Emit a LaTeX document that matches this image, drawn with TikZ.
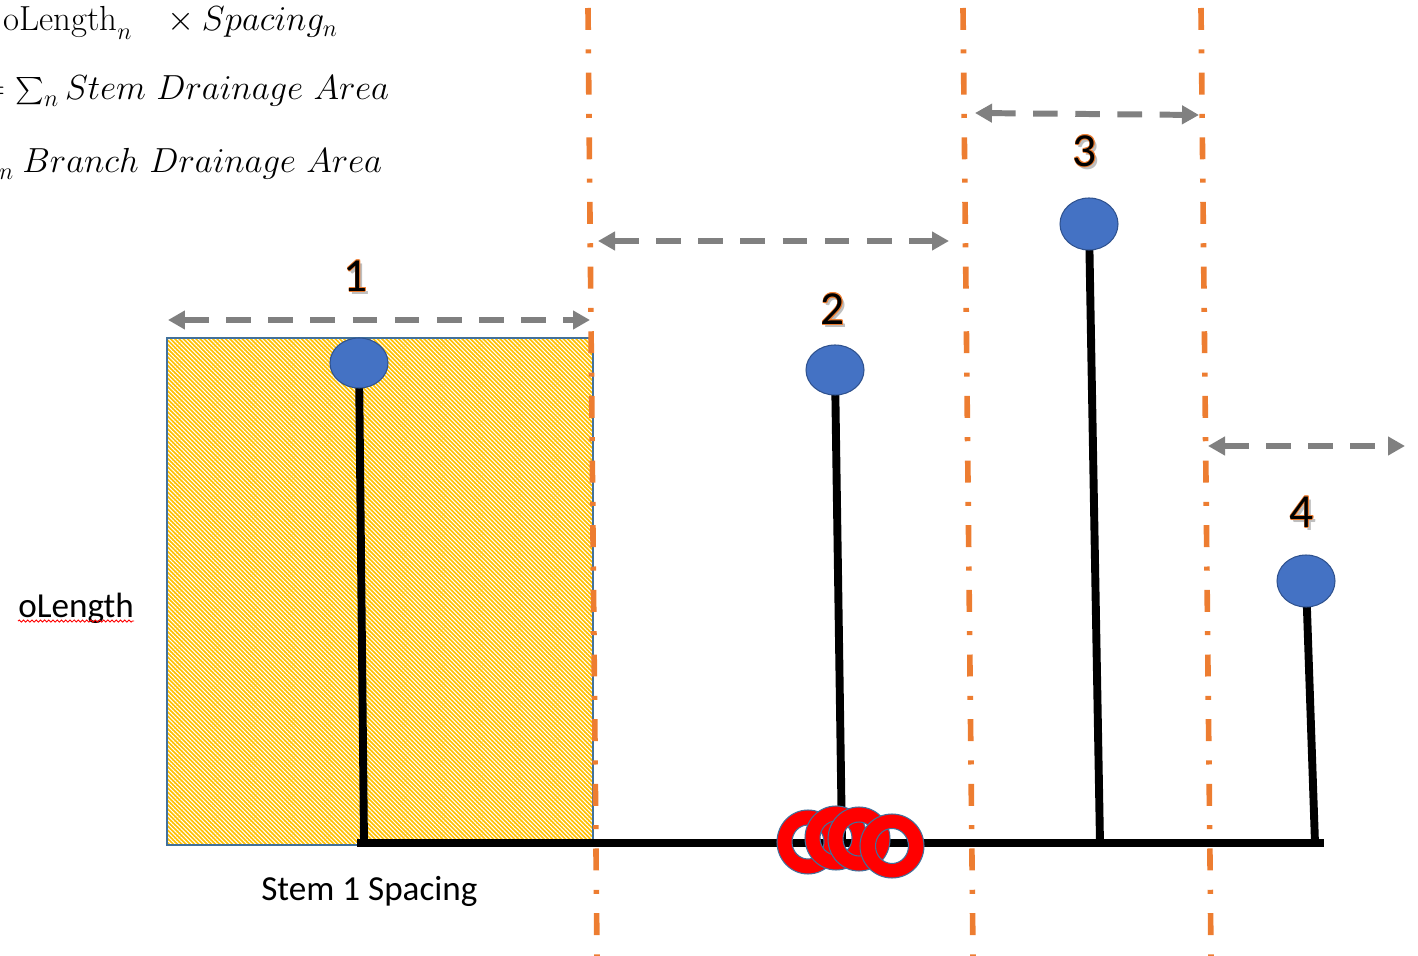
\documentclass[tikz,border=0pt]{standalone}
\usepackage{graphicx}
\usepackage{fontspec}
\newfontfamily\calibri{Carlito}
\usetikzlibrary{arrows.meta,shapes.geometric,patterns.meta,decorations.pathmorphing}

\definecolor{guide}{HTML}{ED7D31}
\definecolor{arrowgrey}{HTML}{808080}
\definecolor{bulbblue}{HTML}{4472C4}
\definecolor{bulbedge}{HTML}{2F528F}
\definecolor{ringred}{HTML}{FF0000}
\definecolor{ringedge}{HTML}{41719C}
\definecolor{areafill}{HTML}{FFC000}
\definecolor{areaedge}{HTML}{41719C}

% one shifted, coloured copy of a text, taking no width
\newcommand{\txtlayer}[4]{\rlap{\kern#1\raisebox{#2}{\textcolor{#3}{#4}}}}
% digit with soft shadow and orange glow
\newcommand{\glowdigit}[1]{%
  \txtlayer{1.6pt}{-1.6pt}{black!25}{#1}%
  \txtlayer{0.5pt}{0pt}{guide}{#1}\txtlayer{-0.5pt}{0pt}{guide}{#1}%
  \txtlayer{0pt}{0.5pt}{guide}{#1}\txtlayer{0pt}{-0.5pt}{guide}{#1}%
  \txtlayer{0.35pt}{0.35pt}{guide}{#1}\txtlayer{-0.35pt}{0.35pt}{guide}{#1}%
  \txtlayer{0.35pt}{-0.35pt}{guide}{#1}\txtlayer{-0.35pt}{-0.35pt}{guide}{#1}%
  #1}
% enlarged formula line
\newcommand{\eqline}[1]{\scalebox{1.147}{#1}}
% a somewhat larger inline summation sign
\newcommand{\bigsum}{\mathop{\vcenter{\hbox{\scalebox{1.35}{$\sum$}}}}\nolimits}

\pgfdeclarelayer{back}
\pgfsetlayers{back,main}

\tikzset{
  guideline/.style={guide, line width=3.2pt,
    dash pattern=on 12.5pt off 11pt on 2.3pt off 11pt},
  spanarrow/.style={arrowgrey, line width=3.4pt, dash pattern=on 14pt off 10pt,
    {Triangle[length=0.34cm,width=0.36cm]}-{Triangle[length=0.34cm,width=0.36cm]}},
  stemline/.style={black, line width=4.5pt},
  bulb/.style={ellipse, fill=bulbblue, draw=bulbedge, line width=0.6pt,
    minimum width=1.16cm, minimum height=1.0cm, inner sep=0pt},
  ring/.style={fill=ringred, draw=ringedge, line width=0.6pt, even odd rule},
  countlabel/.style={font=\calibri\fontsize{27}{30}\selectfont, inner sep=0pt},
  eqtext/.style={font=\fontsize{17.28}{21}\selectfont, inner sep=0pt, anchor=base west},
  sidetext/.style={font=\calibri\fontsize{20}{24}\selectfont, inner sep=0pt, anchor=base west},
}

\begin{document}
\begin{tikzpicture}[x=0.02cm, y=-0.02cm]
\useasboundingbox (0,0) rectangle (1418,956);

% stem tips
\node[bulb] (b1) at (359,363) {};
\node[bulb] (b2) at (835,370) {};
\node[bulb, minimum height=1.04cm] (b3) at (1089,224) {};
\node[bulb, minimum height=1.04cm] (b4) at (1306,581) {};

% stem feet on the main line
\coordinate (s1) at (364,843);
\coordinate (s2) at (842,843);
\coordinate (s3) at (1100,843);
\coordinate (s4) at (1315,843);
\coordinate (bl) at (361,843);
\coordinate (br) at (1320,843);

% guide lines
\coordinate (g1t) at (588,8);   \coordinate (g1b) at (597,956);
\coordinate (g2t) at (963,8);   \coordinate (g2b) at (973,956);
\coordinate (g3t) at (1201,8);  \coordinate (g3b) at (1211,956);

% span arrow ends
\coordinate (a1l) at (168,320);  \coordinate (a1r) at (590,320);
\coordinate (a2l) at (598,241);  \coordinate (a2r) at (949,241);
\coordinate (a3l) at (975,113);  \coordinate (a3r) at (1199,115);
\coordinate (a4l) at (1208,446); \coordinate (a4r) at (1405,446);

\begin{pgfonlayer}{back}
  % drainage area of stem 1
  \fill[areafill] (167,338) rectangle (593,845);
  \fill[pattern={Lines[angle=-45,distance=1.7pt,line width=0.6pt]}, pattern color=white]
    (167,338) rectangle (593,845);
  \draw[areaedge, line width=0.9pt] (167,338) rectangle (593,845);

  \draw[guideline] (g1t) -- (g1b);
  \draw[guideline] (g2t) -- (g2b);
  \draw[guideline] (g3t) -- (g3b);

  \draw[spanarrow] (a1l) -- (a1r);
  \draw[spanarrow] (a2l) -- (a2r);
  \draw[spanarrow] (a3l) -- (a3r);
  \draw[spanarrow] (a4l) -- (a4r);

  \draw[stemline, line cap=rect] (bl) -- (br);
  \draw[stemline] (b1.center) -- (s1);
  \draw[stemline] (b2.center) -- (s2);
  \draw[stemline] (b3.center) -- (s3);
  \draw[stemline] (b4.center) -- (s4);
\end{pgfonlayer}

% rings on the main line
\path[ring] (808,842) ellipse [x radius=0.62cm, y radius=0.64cm]
            (808,842) ellipse [x radius=0.32cm, y radius=0.34cm];
\path[ring] (836,838) ellipse [x radius=0.62cm, y radius=0.64cm]
            (836,838) ellipse [x radius=0.32cm, y radius=0.34cm];
\path[ring] (859,839) ellipse [x radius=0.62cm, y radius=0.64cm]
            (859,839) ellipse [x radius=0.32cm, y radius=0.34cm];
\path[ring] (892,846) ellipse [x radius=0.64cm, y radius=0.64cm]
            (892,846) ellipse [x radius=0.33cm, y radius=0.35cm];

% stem numbers
\node[countlabel] (n1) at (356,277) {\glowdigit{1}};
\node[countlabel] (n2) at (833,310) {\glowdigit{2}};
\node[countlabel] (n3) at (1085,152) {\glowdigit{3}};
\node[countlabel] (n4) at (1302,513) {\glowdigit{4}};

% side labels
\node[sidetext] (olen) at (18,617) {oLength};
\draw[red, line width=0.5pt, decorate,
      decoration={snake, amplitude=0.6pt, segment length=2.4pt}]
  ([yshift=-2.3pt]olen.base west) -- ([yshift=-2.3pt]olen.base east);
\node[sidetext] (spc) at (261,900) {Stem 1 Spacing};

% equations
\begin{scope}
  \clip (0,0) rectangle (1418,956);
  \node[eqtext] (eq1) at (3,31) {\eqline{$\mathrm{oLength}_n\ \ \,\times Spacing_n$}};
  \node[eqtext] (eq2) at (15,100) {\eqline{\llap{$=$\kern5pt}$\bigsum_n Stem\ Drainage\ Area$}};
  \node[eqtext] (eq3) at (22,173) {\eqline{\llap{$\bigsum_n$\kern4pt}$Branch\ Drainage\ Area$}};
\end{scope}
\end{tikzpicture}
\end{document}
